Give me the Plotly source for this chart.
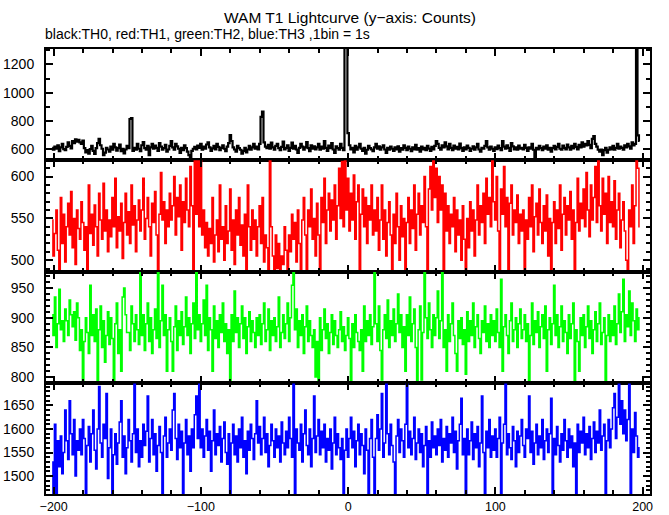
import numpy as np
import plotly.graph_objects as go
from plotly.subplots import make_subplots

# ---------------- data ----------------
T_START = -201   # time of first bin (s)
BIN_SIZE = 1     # 1 bin = 1 s

title_text = "WAM T1 Lightcurve (y\u2212axis: Counts)"
subtitle_text = "black:TH0, red:TH1, green:TH2, blue:TH3 ,1bin = 1s"

x_ticks = [-200, -100, 0, 100, 200]

th0 = [
    612, 598, 620, 605, 630, 588, 615, 640, 602, 595, 618, 650, 625, 608, 660, 645, 672, 655, 668, 650,
    640, 662, 610, 580, 595, 570, 602, 625, 590, 568, 610, 645, 675, 630, 605, 560, 578, 612, 600, 585,
    620, 598, 640, 615, 592, 610, 635, 588, 605, 572, 600, 625, 610, 815, 822, 590, 612, 598, 640, 605,
    588, 630, 652, 610, 598, 625, 560, 615, 640, 605, 628, 612, 590, 645, 620, 598, 610, 632, 585, 600,
    625, 660, 615, 598, 640, 622, 605, 575, 612, 595, 630, 610, 585, 560, 548, 590, 605, 618, 600, 628,
    612, 640, 598, 620, 605, 635, 650, 615, 590, 608, 625, 600, 640, 618, 595, 612, 630, 605, 588, 620,
    645, 702, 660, 615, 600, 585, 625, 610, 598, 570, 590, 612, 580, 600, 625, 598, 615, 640, 605, 620,
    600, 640, 830, 868, 650, 620, 610, 632, 605, 648, 615, 598, 625, 640, 610, 595, 618, 655, 600, 612,
    630, 590, 612, 648, 605, 625, 600, 575, 612, 640, 620, 598, 615, 652, 610, 588, 630, 605, 622, 600,
    615, 640, 598, 620, 605, 660, 612, 590, 628, 610, 645, 600, 575, 622, 610, 598, 640, 612, 595, 1500,
    1500, 715, 630, 600, 612, 580, 625, 598, 615, 640, 605, 590, 612, 570, 598, 625, 610, 600, 588, 615,
    640, 605, 622, 598, 615, 630, 600, 575, 612, 598, 620, 605, 590, 615, 600, 622, 585, 610, 598, 630,
    612, 595, 620, 605, 588, 615, 600, 632, 598, 610, 585, 620, 600, 612, 595, 625, 606, 590, 618, 600,
    625, 660, 640, 612, 598, 630, 615, 650, 622, 600, 640, 612, 595, 628, 605, 618, 600, 642, 610, 590,
    615, 600, 628, 612, 590, 605, 622, 598, 615, 640, 600, 585, 612, 605, 625, 660, 615, 598, 620, 605,
    590, 615, 602, 628, 610, 595, 660, 620, 605, 630, 612, 590, 645, 622, 600, 615, 598, 628, 605, 612,
    600, 632, 612, 590, 615, 605, 640, 598, 548, 612, 600, 625, 610, 595, 620, 605, 630, 598, 612, 585,
    610, 625, 600, 618, 640, 605, 598, 628, 612, 600, 635, 615, 598, 625, 608, 640, 618, 600, 632, 615,
    650, 620, 640, 628, 660, 632, 610, 675, 695, 640, 620, 598, 585, 600, 560, 595, 612, 578, 598, 615,
    600, 625, 598, 612, 640, 605, 620, 612, 598, 630, 615, 640, 622, 605, 650, 628, 640, 1500, 700, 660,
]

th1 = [
    548, 505, 532, 560, 512, 482, 575, 520, 555, 498, 540, 568, 530, 582, 515, 550, 495, 560, 538, 525,
    570, 545, 512, 540, 480, 590, 532, 555, 518, 566, 540, 505, 580, 548, 525, 592, 535, 560, 510, 548,
    528, 575, 540, 598, 515, 552, 535, 568, 502, 545, 580, 530, 558, 520, 590, 542, 565, 510, 548, 572,
    535, 560, 598, 525, 550, 575, 540, 505, 568, 545, 582, 530, 480, 555, 605, 548, 570, 520, 560, 540,
    580, 548, 565, 600, 530, 575, 552, 590, 512, 570, 545, 598, 560, 540, 612, 565, 482, 625, 555, 625,
    540, 625, 530, 560, 515, 545, 505, 538, 520, 575, 498, 530, 548, 510, 590, 525, 540, 500, 565, 520,
    535, 585, 512, 548, 495, 560, 530, 575, 518, 542, 505, 555, 482, 590, 540, 512, 560, 525, 548, 505,
    540, 565, 520, 575, 498, 530, 515, 482, 625, 540, 505, 482, 530, 490, 520, 482, 505, 495, 540, 512,
    482, 530, 510, 555, 525, 545, 498, 560, 520, 482, 548, 575, 530, 482, 560, 540, 585, 525, 550, 505,
    568, 530, 482, 575, 545, 598, 520, 560, 580, 535, 572, 548, 590, 525, 565, 610, 550, 618, 540, 625,
    560, 598, 535, 580, 548, 602, 525, 570, 590, 482, 555, 585, 540, 575, 520, 565, 548, 590, 530, 560,
    535, 575, 512, 548, 590, 525, 560, 505, 545, 570, 530, 482, 555, 520, 580, 540, 500, 565, 528, 550,
    482, 545, 575, 520, 560, 538, 590, 512, 555, 580, 530, 565, 545, 600, 540, 482, 585, 612, 560, 625,
    575, 610, 545, 600, 560, 590, 482, 580, 535, 565, 520, 555, 540, 575, 510, 560, 530, 548, 500, 565,
    525, 482, 550, 515, 570, 535, 560, 505, 548, 590, 530, 565, 545, 580, 520, 598, 555, 575, 540, 625,
    570, 548, 600, 535, 482, 585, 555, 612, 540, 575, 482, 568, 590, 530, 560, 545, 578, 520, 555, 535,
    560, 482, 548, 525, 575, 540, 590, 510, 552, 568, 530, 585, 545, 520, 565, 535, 578, 505, 550, 482,
    545, 570, 520, 560, 538, 590, 512, 555, 575, 530, 565, 548, 582, 525, 560, 482, 545, 598, 535, 568,
    550, 585, 540, 605, 560, 528, 590, 548, 575, 612, 545, 625, 565, 535, 598, 555, 580, 520, 600, 545,
    570, 540, 595, 525, 560, 580, 515, 548, 570, 535, 500, 482, 560, 540, 590, 520, 565, 625, 610, 540,
]

th2 = [
    905, 870, 935, 850, 890, 948, 880, 895, 860, 915, 895, 870, 930, 905, 885, 910, 862, 925, 900, 845,
    880, 785, 860, 900, 875, 840, 955, 870, 905, 860, 915, 785, 880, 920, 850, 895, 825, 870, 910, 855,
    900, 865, 785, 890, 925, 840, 880, 810, 935, 950, 905, 875, 875, 845, 920, 890, 860, 905, 880, 855,
    980, 870, 905, 845, 890, 925, 860, 900, 840, 880, 915, 865, 980, 850, 895, 955, 870, 905, 810, 880,
    900, 860, 810, 885, 920, 845, 895, 870, 910, 855, 885, 935, 870, 900, 840, 890, 925, 865, 980, 880,
    905, 860, 890, 930, 870, 955, 845, 900, 880, 810, 920, 865, 895, 850, 905, 875, 925, 860, 890, 840,
    880, 790, 905, 860, 945, 875, 900, 850, 890, 920, 865, 900, 840, 885, 910, 860, 895, 875, 850, 900,
    870, 905, 855, 890, 925, 860, 880, 915, 845, 895, 870, 900, 860, 885, 935, 850, 875, 905, 865, 890,
    925, 860, 900, 955, 980, 880, 915, 850, 895, 870, 905, 840, 885, 920, 860, 895, 870, 850, 880, 800,
    860, 790, 900, 845, 880, 915, 865, 890, 840, 875, 905, 855, 895, 870, 850, 880, 910, 860, 885, 845,
    870, 900, 865, 785, 890, 850, 905, 875, 860, 845, 880, 810, 920, 860, 895, 870, 905, 855, 885, 980,
    890, 860, 920, 845, 795, 880, 905, 865, 930, 850, 895, 870, 915, 860, 890, 940, 875, 905, 850, 885,
    810, 905, 870, 935, 860, 890, 915, 850, 790, 880, 920, 795, 875, 980, 900, 865, 925, 880, 850, 905,
    870, 900, 945, 865, 895, 980, 850, 880, 810, 905, 860, 890, 925, 870, 840, 810, 895, 865, 900, 855,
    880, 805, 910, 860, 895, 870, 925, 850, 885, 905, 865, 840, 895, 875, 920, 860, 890, 850, 905, 870,
    895, 860, 915, 875, 850, 965, 810, 885, 905, 870, 840, 895, 925, 860, 880, 900, 850, 890, 915, 865,
    880, 905, 860, 890, 790, 870, 925, 855, 895, 875, 910, 850, 885, 905, 865, 920, 810, 880, 900, 855,
    890, 955, 870, 905, 850, 885, 920, 860, 895, 875, 840, 905, 865, 890, 925, 790, 880, 860, 810, 900,
    870, 905, 850, 885, 920, 865, 895, 840, 880, 910, 860, 890, 925, 855, 875, 900, 790, 870, 905, 860,
    895, 870, 920, 855, 890, 940, 875, 910, 965, 860, 905, 885, 945, 870, 925, 895, 860, 915, 880, 900,
]

th3 = [
    1530, 1460, 1610, 1460, 1575, 1520, 1585, 1505, 1550, 1640, 1575, 1535, 1660, 1590, 1545, 1620, 1500, 1575, 1555, 1600,
    1545, 1620, 1580, 1460, 1565, 1605, 1530, 1590, 1640, 1555, 1515, 1600, 1690, 1570, 1540, 1610, 1580, 1675, 1495, 1560,
    1600, 1460, 1545, 1590, 1525, 1570, 1615, 1660, 1540, 1585, 1505, 1560, 1620, 1575, 1530, 1590, 1695, 1550, 1600, 1520,
    1575, 1540, 1610, 1565, 1595, 1670, 1530, 1580, 1620, 1545, 1590, 1510, 1565, 1605, 1550, 1460, 1585, 1625, 1540, 1570,
    1600, 1555, 1640, 1675, 1580, 1535, 1610, 1560, 1595, 1460, 1570, 1620, 1545, 1585, 1510, 1600, 1560, 1630, 1670, 1580,
    1695, 1560, 1600, 1540, 1585, 1620, 1555, 1595, 1510, 1575, 1640, 1545, 1590, 1565, 1605, 1530, 1580, 1615, 1550, 1525,
    1590, 1460, 1570, 1610, 1545, 1585, 1530, 1600, 1560, 1625, 1540, 1575, 1505, 1595, 1555, 1610, 1580, 1535, 1590, 1660,
    1570, 1605, 1545, 1580, 1625, 1550, 1590, 1520, 1565, 1610, 1575, 1540, 1600, 1560, 1585, 1530, 1615, 1570, 1545, 1595,
    1560, 1625, 1580, 1540, 1695, 1460, 1600, 1570, 1555, 1610, 1530, 1590, 1640, 1565, 1545, 1600, 1520, 1580, 1670, 1550,
    1585, 1620, 1545, 1595, 1560, 1610, 1530, 1580, 1555, 1600, 1515, 1570, 1625, 1545, 1590, 1560, 1535, 1580, 1460, 1555,
    1600, 1540, 1580, 1625, 1560, 1595, 1520, 1575, 1610, 1545, 1590, 1565, 1505, 1600, 1555, 1460, 1580, 1620, 1540, 1460,
    1580, 1630, 1555, 1600, 1675, 1540, 1570, 1695, 1590, 1545, 1610, 1565, 1530, 1460, 1585, 1620, 1550, 1600, 1575, 1540,
    1610, 1695, 1560, 1595, 1545, 1580, 1625, 1535, 1570, 1600, 1550, 1590, 1520, 1565, 1605, 1460, 1575, 1540, 1615, 1560,
    1585, 1545, 1600, 1565, 1620, 1530, 1580, 1555, 1605, 1540, 1590, 1570, 1625, 1550, 1595, 1515, 1575, 1610, 1665, 1545,
    1580, 1460, 1600, 1545, 1575, 1615, 1535, 1590, 1560, 1605, 1520, 1570, 1670, 1550, 1460, 1595, 1560, 1620, 1540, 1585,
    1555, 1600, 1540, 1580, 1625, 1460, 1570, 1610, 1695, 1545, 1590, 1560, 1535, 1605, 1575, 1520, 1595, 1550, 1585, 1620,
    1565, 1540, 1600, 1580, 1670, 1550, 1595, 1525, 1570, 1610, 1545, 1585, 1560, 1620, 1535, 1575, 1600, 1550, 1590, 1665,
    1460, 1580, 1545, 1605, 1565, 1530, 1590, 1555, 1620, 1575, 1540, 1600, 1560, 1585, 1520, 1570, 1460, 1610, 1550, 1595,
    1570, 1625, 1545, 1590, 1560, 1605, 1535, 1580, 1615, 1550, 1595, 1570, 1640, 1555, 1585, 1610, 1460, 1575, 1620, 1560,
    1600, 1645, 1675, 1580, 1625, 1695, 1610, 1660, 1590, 1640, 1575, 1620, 1695, 1460, 1600, 1550, 1635, 1585, 1540, 1560,
]

# ---------------- figure ----------------
W, H = 669, 515
ML, MR, MT, MB = 46, 19, 49, 21
FONT = "Liberation Sans, Arial, Helvetica, sans-serif"
PLOT_H = H - MT - MB

panels = [
    # values, colour, line width, y range, major dtick, minor dtick
    (th0, "#000000", 2.2, [524, 1309], 200, 100),
    (th1, "#ff0000", 1.5, [486.5, 619.5], 50, 10),
    (th2, "#00ff00", 1.5, [790.5, 978], 50, 10),
    (th3, "#0000ff", 1.5, [1462, 1698], 50, 10),
]

fig = make_subplots(rows=4, cols=1, shared_xaxes=False, vertical_spacing=0)

for r, (vals, col, lw, yr, dt, mdt) in enumerate(panels, start=1):
    t = T_START + BIN_SIZE * np.arange(len(vals))
    fig.add_trace(
        go.Scatter(x=t, y=vals, mode="lines", line=dict(color=col, width=lw, shape="hvh"),
                   showlegend=False, hoverinfo="skip"),
        row=r, col=1,
    )
    fig.update_yaxes(
        range=yr, dtick=dt, tick0=0, showgrid=False, zeroline=False, automargin=False,
        showline=True, linecolor="black", linewidth=2, mirror="ticks",
        ticks="inside", ticklen=7, tickwidth=2, tickcolor="black",
        minor=dict(dtick=mdt, tick0=0, ticks="inside", ticklen=4, tickwidth=2, tickcolor="black", showgrid=False),
        tickfont=dict(family=FONT, size=14, color="black"), ticklabelstandoff=7,
        row=r, col=1,
    )
    fig.update_xaxes(
        range=[-205.2, 205], tickvals=x_ticks, showgrid=False, zeroline=False, automargin=False,
        showline=True, linecolor="black", linewidth=2, mirror="ticks",
        ticks="inside", ticklen=7, tickwidth=2, tickcolor="black",
        minor=dict(dtick=20, tick0=0, ticks="inside", ticklen=4, tickwidth=2, tickcolor="black", showgrid=False),
        showticklabels=(r == 4),
        tickfont=dict(family=FONT, size=12.5, color="black"), ticklabelstandoff=0,
        row=r, col=1,
    )

fig.add_annotation(text=title_text, xref="paper", yref="paper", x=0.5, y=1 + 31 / PLOT_H,
                   xanchor="center", yanchor="middle", showarrow=False, xshift=2,
                   font=dict(family=FONT, size=15.5, color="black"))
fig.add_annotation(text=subtitle_text, xref="paper", yref="paper", x=0, y=1 + 15 / PLOT_H,
                   xanchor="left", yanchor="middle", showarrow=False, xshift=-3,
                   font=dict(family=FONT, size=14, color="black"))

fig.update_layout(
    width=W, height=H, margin=dict(l=ML, r=MR, t=MT, b=MB, autoexpand=False),
    paper_bgcolor="white", plot_bgcolor="white",
    font=dict(family=FONT, size=14, color="black"),
)

fig.write_html("out.html", config={"displayModeBar": False},
               post_script="document.body.style.margin='0px';")
